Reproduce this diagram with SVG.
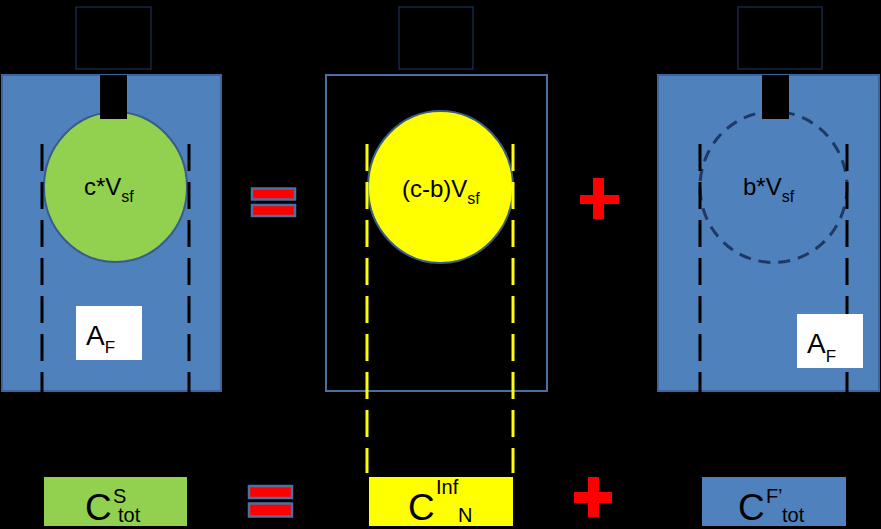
<svg xmlns="http://www.w3.org/2000/svg" width="881" height="529" viewBox="0 0 881 529">
<style>
text{font-family:"Liberation Sans",Arial,sans-serif;fill:#000}
.blue{fill:#4F81BD;stroke:#3A669B;stroke-width:2}
.topbox{fill:none;stroke:#1F3864;stroke-width:1}
.stem{fill:#000}
.bk{stroke:#000;stroke-width:3;stroke-dasharray:27 11;fill:none}
.yl{stroke:#FFFF00;stroke-width:3;stroke-dasharray:27 11;fill:none}
.red{fill:#FF0000}
.eqb{fill:#FF0000;stroke:#4F6FA0;stroke-width:2.5}
.lbl{fill:#fff}
.t1{font-size:24px}
.s1{font-size:16px}
.big{font-size:37px}
.sm{font-size:20px}
</style>
<rect width="881" height="529" fill="#000"/>

<g id="top-boxes">
<rect class="topbox" x="76" y="7" width="75" height="62"/>
<rect class="topbox" x="399" y="7" width="74" height="62"/>
<rect class="topbox" x="738" y="7" width="84" height="62"/>
</g>

<g id="panel-left">
<rect class="blue" x="2" y="75" width="219" height="316"/>
<ellipse cx="115.5" cy="187" rx="71.5" ry="75" fill="#92D050" stroke="#385D8A" stroke-width="2"/>
<rect class="stem" x="100" y="75" width="27" height="44"/>
<text x="84" y="195" class="t1">c*V<tspan class="s1" dy="7">sf</tspan></text>
</g>

<g id="panel-middle">
<rect x="326" y="75" width="221" height="316" fill="none" stroke="#4A6FA0" stroke-width="2"/>
<ellipse cx="440.5" cy="187" rx="72.5" ry="76" fill="#FFFF00" stroke="#385D8A" stroke-width="2"/>
<text x="402" y="197" class="t1">(c-b)V<tspan class="s1" dy="7">sf</tspan></text>
</g>

<g id="panel-right">
<rect class="blue" x="658" y="75" width="221" height="316"/>
<ellipse cx="773.5" cy="187" rx="73.5" ry="75.5" fill="none" stroke="#1F3864" stroke-width="3" stroke-dasharray="12 8"/>
<rect class="stem" x="762" y="75" width="27" height="44"/>
<text x="743" y="195" class="t1">b*V<tspan class="s1" dy="7">sf</tspan></text>
</g>

<g id="guides">
<line class="bk" x1="42" y1="144" x2="42" y2="392"/>
<line class="bk" x1="189" y1="144" x2="189" y2="392"/>
<line class="yl" x1="367" y1="144" x2="367" y2="473"/>
<line class="yl" x1="513" y1="144" x2="513" y2="473"/>
<line class="bk" x1="700" y1="144" x2="700" y2="392"/>
<line class="bk" x1="847" y1="144" x2="847" y2="392"/>
</g>

<g id="label-af-left">
<rect class="lbl" x="76" y="306" width="66" height="54"/>
<text x="86" y="345" font-size="28">A<tspan font-size="17" dy="8">F</tspan></text>
</g>
<g id="label-af-right">
<rect class="lbl" x="797" y="314" width="66" height="54"/>
<text x="807" y="353" font-size="28">A<tspan font-size="17" dy="9">F</tspan></text>
</g>

<g id="equals-top">
<rect class="eqb" x="252" y="188.5" width="43" height="11"/>
<rect class="eqb" x="252" y="205" width="43" height="11"/>
</g>
<g id="plus-top">
<rect class="red" x="593" y="178" width="11" height="41"/>
<rect class="red" x="580" y="195" width="39" height="9"/>
</g>

<g id="box-cs">
<rect x="44" y="477" width="143" height="49" fill="#92D050"/>
<text x="85" y="520" class="big">C<tspan class="sm" x="113" y="503">S</tspan><tspan class="sm" x="118" y="522">tot</tspan></text>
</g>
<g id="equals-bottom">
<rect class="eqb" x="249" y="486" width="43" height="12"/>
<rect class="eqb" x="249" y="503.5" width="43" height="13"/>
</g>
<g id="box-cinf">
<rect x="369" y="477" width="144" height="49" fill="#FFFF00"/>
<text x="408" y="520" class="big">C<tspan class="sm" x="436" y="494">Inf</tspan><tspan class="sm" x="458" y="522">N</tspan></text>
</g>
<g id="plus-bottom">
<rect class="red" x="588" y="477" width="11" height="40"/>
<rect class="red" x="574" y="492" width="38" height="11"/>
</g>
<g id="box-cf">
<rect x="702" y="477" width="144" height="49" fill="#4F81BD"/>
<text x="738" y="520" class="big">C<tspan class="sm" x="766" y="503">F</tspan><tspan class="sm" x="778" y="503">’</tspan><tspan class="sm" x="782" y="522">tot</tspan></text>
</g>
</svg>
